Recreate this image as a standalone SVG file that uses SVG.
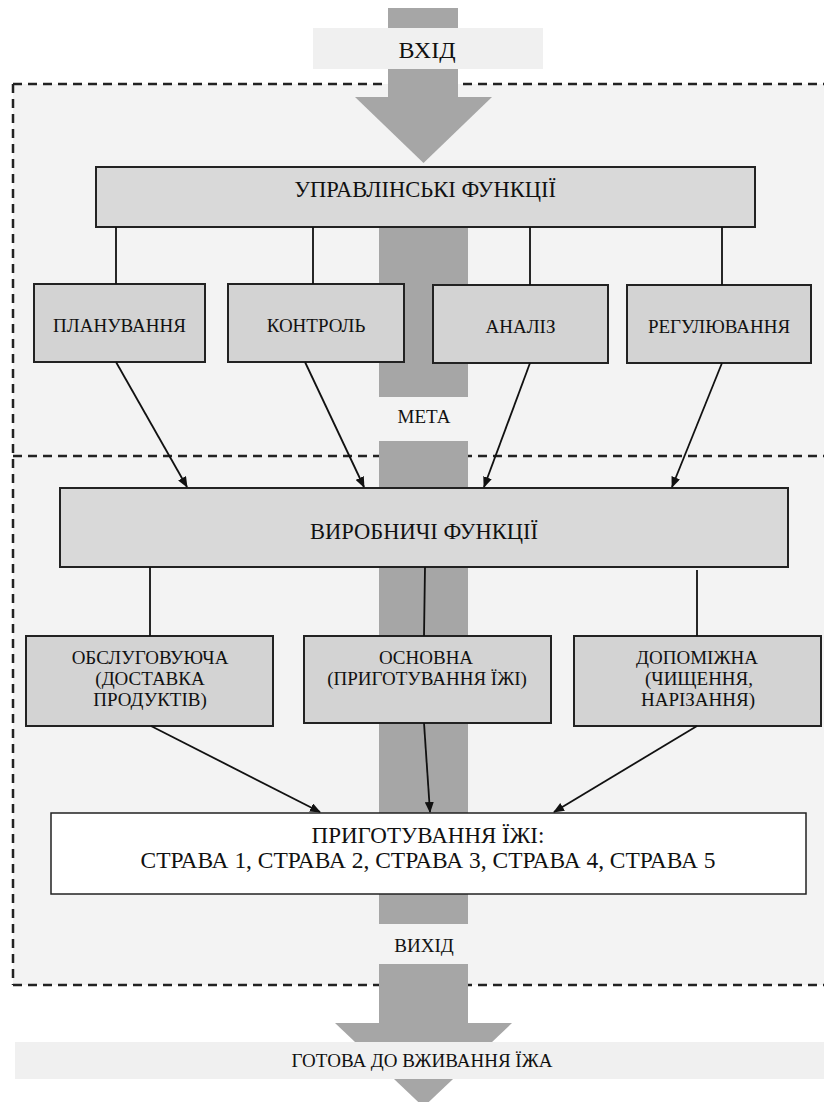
<svg xmlns="http://www.w3.org/2000/svg" width="824" height="1102" viewBox="0 0 824 1102">
<defs>
<marker id="ah" markerUnits="userSpaceOnUse" markerWidth="11" markerHeight="9" refX="10" refY="4.5" orient="auto">
<path d="M0,0 L11,4.5 L0,9 z" fill="#111"/>
</marker>
<style>
.dash{stroke:#222;stroke-width:2.5;stroke-dasharray:9 6;fill:none}
.band{fill:#a6a6a6}
.lbl{fill:#f0f0f0}
.b1{fill:#d9d9d9;stroke:#222;stroke-width:2}
.b2{fill:#d3d3d3;stroke:#222;stroke-width:2}
.b3{fill:#ffffff;stroke:#222;stroke-width:1.5}
.ln{stroke:#111;stroke-width:1.8;fill:none}
.ar{stroke:#111;stroke-width:1.8;fill:none;marker-end:url(#ah)}
text{font-family:"Liberation Serif","Times New Roman",serif;fill:#111;text-anchor:middle}
.t22{font-size:22.5px}
.t23{font-size:23px}
.t19{font-size:19px}
</style>
</defs>
<rect width="824" height="1102" fill="#ffffff"/>
<g id="region">
<rect x="13" y="84" width="811" height="901" fill="#f3f3f3"/>
<path class="dash" d="M13,84 H824 M13,84 V985 M13,985 H824 M13,456 H824"/>
</g>
<g id="flow">
<rect class="band" x="388" y="8" width="70" height="20"/>
<rect class="lbl" x="313" y="28" width="230" height="41"/>
<rect class="band" x="388" y="69" width="70" height="29"/>
<polygon class="band" points="355,97 492,97 423.5,163"/>
<rect class="band" x="379" y="227" width="89" height="170"/>
<rect class="band" x="379" y="441" width="89" height="483"/>
<rect class="band" x="379" y="964" width="89" height="60"/>
<polygon class="band" points="335,1023 512,1023 423.5,1107"/>
<rect class="lbl" x="15" y="1042" width="809" height="37"/>
<text x="427" y="58" style="font-size:24px">ВХІД</text>
<text class="t19" x="424" y="423">МЕТА</text>
<text class="t19" x="424" y="952">ВИХІД</text>
<text class="t19" x="422" y="1067">ГОТОВА ДО ВЖИВАННЯ ЇЖА</text>
</g>
<g id="n-upr">
<rect class="b1" x="96" y="167" width="659" height="60"/>
<text class="t22" x="425" y="197">УПРАВЛІНСЬКІ ФУНКЦІЇ</text>
</g>
<g id="n-plan">
<rect class="b2" x="34" y="284" width="171" height="78"/>
<text class="t19" x="119.5" y="332">ПЛАНУВАННЯ</text>
</g>
<g id="n-kontrol">
<rect class="b2" x="228" y="284" width="176" height="78"/>
<text class="t19" x="316" y="332">КОНТРОЛЬ</text>
</g>
<g id="n-analiz">
<rect class="b2" x="433" y="285" width="175" height="78"/>
<text class="t19" x="520.5" y="333">АНАЛІЗ</text>
</g>
<g id="n-regul">
<rect class="b2" x="627" y="285" width="184" height="78"/>
<text class="t19" x="719" y="333">РЕГУЛЮВАННЯ</text>
</g>
<g id="n-vyrob">
<rect class="b1" x="60" y="488" width="728" height="79"/>
<text class="t22" x="424" y="539">ВИРОБНИЧІ ФУНКЦІЇ</text>
</g>
<g id="n-obsl">
<rect class="b2" x="26" y="636" width="247" height="90"/>
<text class="t19" x="150" y="664">ОБСЛУГОВУЮЧА</text>
<text class="t19" x="150" y="685">(ДОСТАВКА</text>
<text class="t19" x="150" y="706">ПРОДУКТІВ)</text>
</g>
<g id="n-osn">
<rect class="b2" x="304" y="636" width="247" height="87"/>
<text class="t19" x="426" y="664">ОСНОВНА</text>
<text class="t19" x="427" y="685">(ПРИГОТУВАННЯ ЇЖІ)</text>
</g>
<g id="n-dop">
<rect class="b2" x="574" y="636" width="247" height="90"/>
<text class="t19" x="697" y="664">ДОПОМІЖНА</text>
<text class="t19" x="699" y="685">(ЧИЩЕННЯ,</text>
<text class="t19" x="698" y="706">НАРІЗАННЯ)</text>
</g>
<g id="n-final">
<rect class="b3" x="51" y="813" width="755" height="81"/>
<text class="t23" x="428" y="843">ПРИГОТУВАННЯ ЇЖІ:</text>
<text class="t23" x="428" y="868" textLength="575" lengthAdjust="spacingAndGlyphs">СТРАВА 1, СТРАВА 2, СТРАВА 3, СТРАВА 4, СТРАВА 5</text>
</g>
<g id="connectors">
<path class="ln" d="M116,227 V284 M313,227 V284 M530,227 V285 M722,227 V285"/>
<path class="ar" d="M116,362 L187,487"/>
<path class="ar" d="M305,362 L364,487"/>
<path class="ar" d="M530,363 L484,487"/>
<path class="ar" d="M722,363 L672,487"/>
<path class="ln" d="M150,567 V636 M425,567 L424,636 M697,570 V636"/>
<path class="ar" d="M151,726 L320,812"/>
<path class="ar" d="M424,723 L430,812"/>
<path class="ar" d="M697,726 L554,812"/>
</g>
</svg>
